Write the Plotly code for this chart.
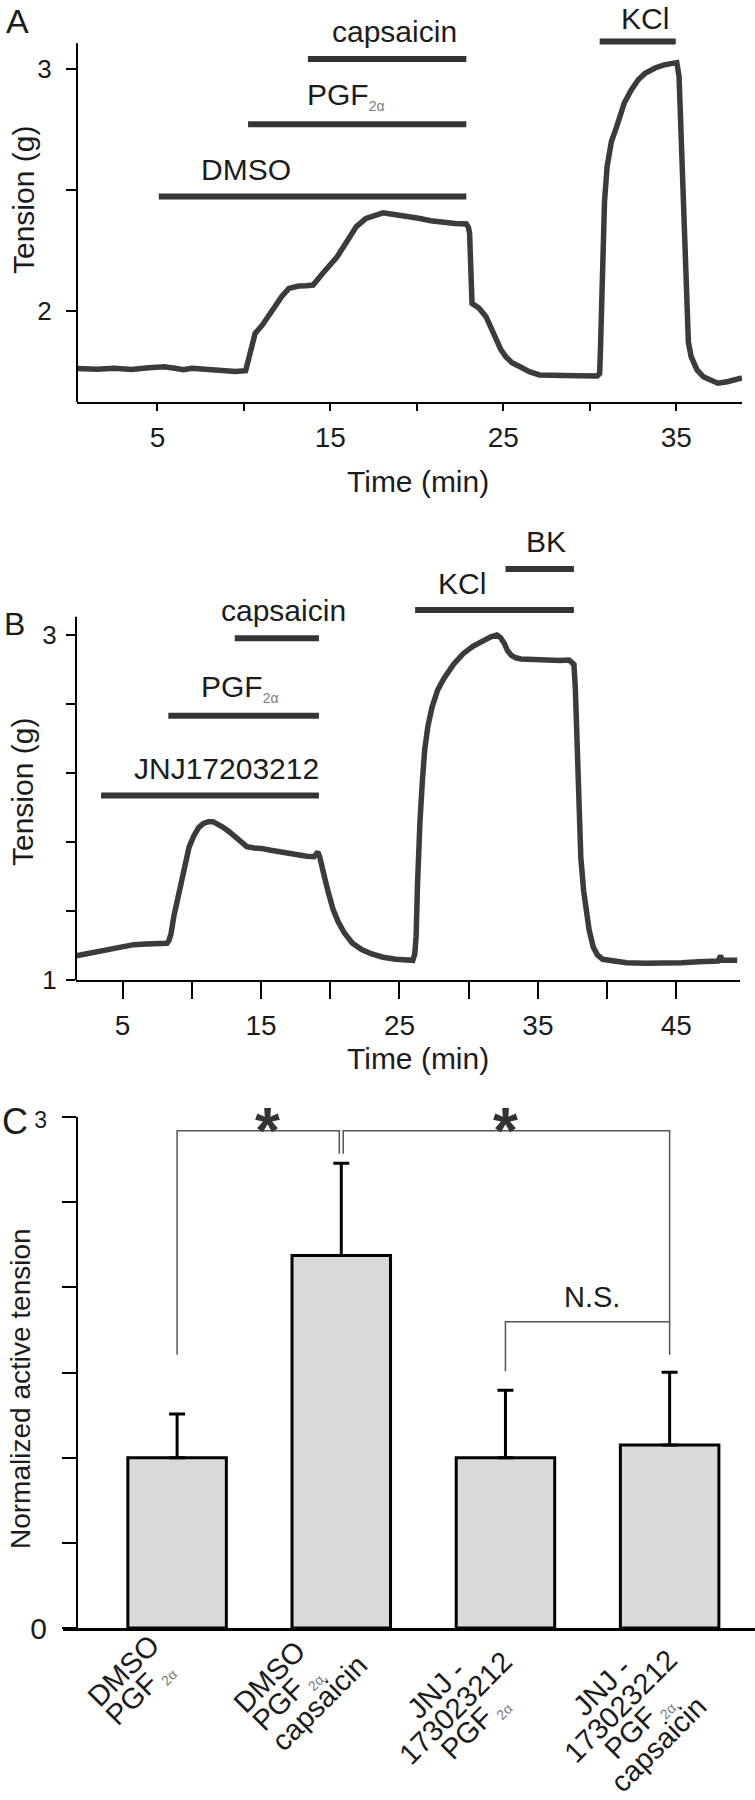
import plotly.graph_objects as go

W, H = 755, 1800
FONT = "Liberation Sans, Arial, Helvetica, sans-serif"
INK = "#1c1c1c"
TRACE = "#3b3b3b"

SUB = "<sub><span style='font-size:14px;color:#7c7c7c'>{}</span></sub>"
PGF = "PGF" + SUB.format("2α")
PGF_C = "PGF" + SUB.format(" 2α,")
PGF_S = "PGF" + SUB.format(" 2α")

# ---------------- Panel A data ----------------
a_time = [0.35, 1.5, 2.5, 3.5, 4.5, 5.4, 6.0, 6.5, 7.0, 8.0, 8.7, 9.5, 10.1,
          10.38, 10.65, 11.07, 11.4, 11.77, 12.2, 12.6, 13.16, 13.6, 14.0, 14.55,
          15.0, 15.39, 15.9, 16.5, 17.06, 17.5, 18.04, 18.5, 19.0, 19.6, 20.1,
          20.8, 21.5, 22.2, 22.86, 22.98, 23.05, 23.12, 23.19, 23.4, 23.6, 24.0,
          24.3, 24.58, 24.85, 25.14, 25.5, 25.97, 26.5, 27.09, 28.2, 29.3, 30.43,
          30.57, 30.62, 30.71, 30.85, 31.0, 31.25, 31.55, 32.0, 32.4, 32.8, 33.2,
          33.8, 34.3, 34.8, 35.03, 35.16, 35.28, 35.38, 35.48, 35.58, 35.7, 35.86,
          36.2, 36.56, 37.0, 37.4, 37.95, 38.4, 38.8]
a_tension = [1.761, 1.758, 1.762, 1.757, 1.764, 1.768, 1.762, 1.756, 1.762, 1.757,
             1.750, 1.748, 1.752, 1.823, 1.906, 1.941, 1.975, 2.017, 2.06, 2.092,
             2.102, 2.103, 2.106, 2.154, 2.19, 2.223, 2.28, 2.348, 2.382, 2.395,
             2.405, 2.400, 2.396, 2.388, 2.382, 2.372, 2.364, 2.361, 2.359, 2.345,
             2.32, 2.15, 2.03, 2.02, 2.01, 1.975, 1.93, 1.879, 1.84, 1.81, 1.785,
             1.768, 1.748, 1.734, 1.730, 1.731, 1.730, 1.740, 1.85, 2.18, 2.45,
             2.596, 2.70, 2.76, 2.86, 2.913, 2.955, 2.982, 3.005, 3.017, 3.024,
             3.026, 2.97, 2.70, 2.458, 2.20, 1.975, 1.87, 1.81, 1.755, 1.727, 1.71,
             1.700, 1.706, 1.715, 1.722]
a_drugs = ["DMSO", PGF, "capsaicin", "KCl"]
a_drug_start = [5.08, 10.24, 13.7, 30.57]
a_drug_end = [22.86, 22.86, 22.86, 34.97]
a_drug_level = [2.472, 2.771, 3.041, 3.113]
a_label_time = [10.1, 15.9, 18.7, 33.2]
a_xticks = [5, 15, 25, 35]
a_xminor = [10, 20, 30]
a_yticks = [2, 3]
a_yminor = [2.5]

# ---------------- Panel B data ----------------
b_time = [1.65, 2.5, 3.2, 4.0, 4.9, 5.8, 6.7, 7.5, 8.2, 8.35, 8.5, 8.7, 8.93, 9.2,
          9.45, 9.8, 10.14, 10.5, 10.84, 11.2, 11.53, 11.9, 12.23, 12.7, 13.1,
          13.5, 13.97, 14.5, 15.0, 15.7, 16.4, 17.1, 17.79, 18.3, 18.83, 19.0,
          19.1, 19.25, 19.4, 19.6, 19.87, 20.2, 20.57, 21.0, 21.6, 22.3, 23.0,
          23.8, 24.74, 25.4, 25.96, 26.1, 26.2, 26.3, 26.4, 26.48, 26.65, 26.82,
          27.05, 27.35, 27.75, 28.2, 28.9, 29.6, 30.3, 31.0, 31.6, 32.04, 32.3,
          32.56, 32.8, 33.08, 33.4, 33.78, 34.8, 35.86, 36.6, 37.25, 37.45, 37.6,
          37.7, 37.77, 37.9, 38.1, 38.3, 38.47, 38.7, 38.99, 39.3, 39.68, 40.5,
          41.4, 42.8, 44.2, 45.4, 46.6, 47.5, 48.0, 48.1, 48.2, 48.3, 48.8, 49.4]
b_tension = [1.141, 1.155, 1.168, 1.183, 1.197, 1.205, 1.209, 1.212, 1.213, 1.23,
             1.27, 1.37, 1.462, 1.57, 1.669, 1.77, 1.835, 1.885, 1.908, 1.918,
             1.918, 1.905, 1.887, 1.86, 1.835, 1.80, 1.773, 1.765, 1.763, 1.752,
             1.742, 1.732, 1.721, 1.718, 1.715, 1.73, 1.742, 1.71, 1.67, 1.59,
             1.504, 1.41, 1.338, 1.275, 1.213, 1.175, 1.151, 1.132, 1.12, 1.116,
             1.114, 1.15, 1.25, 1.55, 1.80, 1.918, 2.15, 2.333, 2.47, 2.581, 2.68,
             2.747, 2.83, 2.892, 2.935, 2.965, 2.99, 3.0, 2.985, 2.954, 2.91, 2.882,
             2.868, 2.861, 2.855, 2.851, 2.852, 2.855, 2.845, 2.83, 2.70, 2.54, 2.15,
             1.711, 1.52, 1.40, 1.29, 1.193, 1.145, 1.12, 1.107, 1.10, 1.097, 1.095,
             1.10, 1.106, 1.108, 1.11, 1.125, 1.141, 1.115, 1.112, 1.114]
b_drugs = ["JNJ17203212", PGF, "capsaicin", "KCl", "BK"]
b_drug_start = [3.44, 8.3, 13.1, 26.13, 32.66]
b_drug_end = [19.18, 19.18, 19.18, 37.6, 37.6]
b_drug_level = [2.07, 2.532, 2.981, 3.145, 3.383]
b_label_time = [12.5, 13.5, 16.6, 29.5, 35.6]
b_xticks = [5, 15, 25, 35, 45]
b_xminor = [10, 20, 30, 40]
b_yticks = [1, 3]
b_yminor = [1.4, 1.8, 2.2, 2.6]

# ---------------- Panel C data ----------------
c_groups = [0, 1, 2, 3]
c_label_lines = [
    ["DMSO", PGF_S],
    ["DMSO", PGF_C, "capsaicin"],
    ["JNJ -", "173023212", PGF_S],
    ["JNJ -", "173023212", PGF_C, "capsaicin"],
]
c_mean = [1.0, 2.187, 1.0, 1.074]
c_sem = [0.257, 0.541, 0.396, 0.428]
c_yticks = [0, 3]
c_yticktext = ["0", "<span style='font-size:23px'>3</span>"]
c_yminor = [0.5, 1, 1.5, 2, 2.5]
c_sig_pairs = [(0, 1), (1, 3), (2, 3)]
c_sig_height = [2.92, 2.92, 1.798]
c_sig_leg_low = [(1.604, 2.784), (2.784, 1.604), (1.507, 1.798)]
c_sig_text = ["<b>*</b>", "<b>*</b>", "N.S."]
c_sig_text_x = [0.55, 2.0, 2.53]
c_sig_text_y = [2.92, 2.92, 1.945]

# ---------------- style / layout constants ----------------
A_Y = (30, 402.3)      # px top, bottom of panel A plot area
B_Y = (555, 980)
C_Y = (1117, 1628)
A_X = (77, 742)
B_X = (76, 740)
C_X = (63, 755)
A_RANGE_Y = [1.621, 3.161]
B_RANGE_Y = [1.0, 3.464]
C_RANGE_X = [-0.695, 3.52]
AXIS_TOP = 3.106
A_LABEL_SHIFT = [27, 28, 28, 23]
B_LABEL_SHIFT = [27, 28, 28, 27, 27]
# centre of every rotated label line, px offset from (group centre, x axis)
C_LINE_OFFSETS = [
    [(-54, 43), (-38, 65)],
    [(-72, 49), (-54, 69), (-22, 75)],
    [(-69, 61), (-50, 80), (-31, 99)],
    [(-68, 59), (-49, 78), (-30, 97), (-11, 116)],
]
C_LABEL_SIZE = 29


def dom_x(p):
    return [p[0] / W, p[1] / W]


def dom_y(p):
    return [1 - p[1] / H, 1 - p[0] / H]


def c_group_px(g):
    return C_X[0] + (g - C_RANGE_X[0]) / (C_RANGE_X[1] - C_RANGE_X[0]) * (C_X[1] - C_X[0])


fig = go.Figure()

# Panel A traces
fig.add_trace(go.Scatter(x=a_time, y=a_tension, mode="lines",
                         line=dict(color=TRACE, width=5.5), xaxis="x", yaxis="y",
                         hoverinfo="skip"))
for s, e, lv in zip(a_drug_start, a_drug_end, a_drug_level):
    fig.add_trace(go.Scatter(x=[s, e], y=[lv, lv], mode="lines",
                             line=dict(color="#353535", width=6),
                             xaxis="x", yaxis="y", hoverinfo="skip"))

# Panel B traces
fig.add_trace(go.Scatter(x=b_time, y=b_tension, mode="lines",
                         line=dict(color=TRACE, width=5.5), xaxis="x2", yaxis="y2",
                         hoverinfo="skip"))
for s, e, lv in zip(b_drug_start, b_drug_end, b_drug_level):
    fig.add_trace(go.Scatter(x=[s, e], y=[lv, lv], mode="lines",
                             line=dict(color="#353535", width=6),
                             xaxis="x2", yaxis="y2", hoverinfo="skip"))

# Panel C bars
fig.add_trace(go.Bar(x=c_groups, y=c_mean, width=0.6,
                     marker=dict(color="#d9d9d9", line=dict(color="black", width=3)),
                     error_y=dict(type="data", symmetric=False, array=c_sem,
                                  arrayminus=[0] * len(c_sem), color="black",
                                  thickness=3, width=8),
                     xaxis="x3", yaxis="y3", hoverinfo="skip"))

# significance brackets
DOUBLE = 0.012
leg_dx = [(0, -DOUBLE), (DOUBLE, 0), (0, 0)]
for (l, r), h, (lo_l, lo_r), (dl, dr) in zip(c_sig_pairs, c_sig_height, c_sig_leg_low, leg_dx):
    fig.add_trace(go.Scatter(x=[l + dl, l + dl, r + dr, r + dr], y=[lo_l, h, h, lo_r],
                             mode="lines", line=dict(color="#555555", width=1.5),
                             xaxis="x3", yaxis="y3", hoverinfo="skip"))

annotations = []
# drug labels
for txt, t, lv, sh in zip(a_drugs, a_label_time, a_drug_level, A_LABEL_SHIFT):
    annotations.append(dict(x=t, y=lv, xref="x", yref="y", text=txt, showarrow=False,
                            yshift=sh, xanchor="center", yanchor="middle",
                            font=dict(size=30, color=INK)))
for txt, t, lv, sh in zip(b_drugs, b_label_time, b_drug_level, B_LABEL_SHIFT):
    annotations.append(dict(x=t, y=lv, xref="x2", yref="y2", text=txt, showarrow=False,
                            yshift=sh, xanchor="center", yanchor="middle",
                            font=dict(size=30, color=INK)))

# significance text
for txt, x, y in zip(c_sig_text, c_sig_text_x, c_sig_text_y):
    big = txt != "N.S."
    annotations.append(dict(x=x, y=y, xref="x3", yref="y3", text=txt, showarrow=False,
                            xanchor="center", yanchor="middle",
                            font=dict(size=64 if big else 29,
                                      color="#333333" if big else INK)))


def paper_text(text, px, py, size, angle=0):
    return dict(x=px / W, y=1 - py / H, xref="paper", yref="paper", text=text,
                showarrow=False, xanchor="center", yanchor="middle", textangle=angle,
                font=dict(size=size, color=INK))


# category labels: one rotated annotation per text line
for g, lines, offs in zip(c_groups, c_label_lines, C_LINE_OFFSETS):
    for txt, (dx, dy) in zip(lines, offs):
        annotations.append(paper_text(txt, c_group_px(g) + dx, C_Y[1] + dy,
                                      C_LABEL_SIZE, angle=-45))

annotations += [
    paper_text("A", 17, 21, 34),
    paper_text("B", 14, 624, 32),
    paper_text("C", 15, 1121, 36),
    paper_text("Tension (g)", 23, 200, 30, -90),
    paper_text("Tension (g)", 23, 792, 30, -90),
    paper_text("Normalized active tension", 20, 1389, 28, -90),
    paper_text("Time (min)", 418, 481, 30),
    paper_text("Time (min)", 418, 1058, 30),
]

shapes = [
    dict(type="line", xref="x domain", yref="y", x0=0, x1=0,
         y0=A_RANGE_Y[0], y1=AXIS_TOP, line=dict(color="black", width=2)),
    dict(type="line", xref="x2 domain", yref="y2", x0=0, x1=0,
         y0=B_RANGE_Y[0], y1=AXIS_TOP, line=dict(color="black", width=2)),
]


def minor(vals, length):
    return dict(tickmode="array", tickvals=vals, ticks="outside", ticklen=length,
                tickwidth=2, tickcolor="black", showgrid=False)


common_x = dict(showgrid=False, zeroline=False, showline=True, linecolor="black",
                linewidth=2, ticks="outside", tickcolor="black", tickwidth=2,
                tickfont=dict(size=28, color=INK), tickmode="array")
common_y = dict(showgrid=False, zeroline=False, ticks="outside", tickcolor="black",
                tickwidth=2, tickfont=dict(size=26, color=INK), tickmode="array")

fig.update_layout(
    width=W, height=H, margin=dict(l=0, r=0, t=0, b=0, autoexpand=False),
    paper_bgcolor="white", plot_bgcolor="white", showlegend=False,
    font=dict(family=FONT, color=INK),
    xaxis=dict(common_x, domain=dom_x(A_X), range=[0.35, 38.8], anchor="y",
               tickvals=a_xticks, ticktext=[str(v) for v in a_xticks], ticklen=7,
               minor=minor(a_xminor, 7), ticklabelstandoff=2),
    yaxis=dict(common_y, domain=dom_y(A_Y), range=A_RANGE_Y, anchor="x",
               showline=False, tickvals=a_yticks, ticktext=[str(v) for v in a_yticks],
               ticklen=10, minor=minor(a_yminor, 10), ticklabelstandoff=9),
    xaxis2=dict(common_x, domain=dom_x(B_X), range=[1.63, 49.6], anchor="y2",
                tickvals=b_xticks, ticktext=[str(v) for v in b_xticks], ticklen=17,
                minor=minor(b_xminor, 17), ticklabelstandoff=2),
    yaxis2=dict(common_y, domain=dom_y(B_Y), range=B_RANGE_Y, anchor="x2",
                showline=False, tickvals=b_yticks, ticktext=[str(v) for v in b_yticks],
                ticklen=9, minor=minor(b_yminor, 9), ticklabelstandoff=4),
    xaxis3=dict(domain=dom_x(C_X), range=C_RANGE_X, anchor="y3",
                showgrid=False, zeroline=False, showline=True, linecolor="black",
                linewidth=3, ticks="", showticklabels=False),
    yaxis3=dict(common_y, domain=dom_y(C_Y), range=[0, 3], anchor="free",
                position=77 / W, showline=True, linecolor="black", linewidth=2,
                tickvals=c_yticks, ticktext=c_yticktext, ticklen=14,
                minor=minor(c_yminor, 14), ticklabelstandoff=9,
                tickfont=dict(size=30, color=INK)),
    annotations=annotations,
    shapes=shapes,
)

fig.write_html("out.html", config={"displayModeBar": False},
               post_script="document.body.style.margin='0';")
